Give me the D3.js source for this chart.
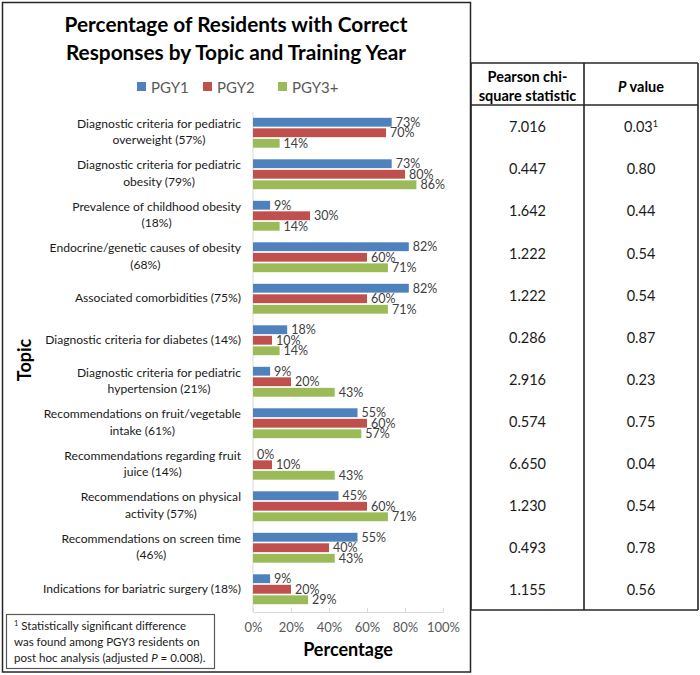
<!DOCTYPE html>
<html><head><meta charset="utf-8">
<script src="https://cdn.jsdelivr.net/npm/d3@7"></script>
<style>
body{margin:0;background:#fff;}
svg{display:block;font-family:Lato,"Open Sans",sans-serif;}
</style>
</head><body>
<svg id="chart" width="700" height="675"></svg>
<script>
// ---------- data ----------
const topics = [
  "Diagnostic criteria for pediatric|overweight (57%)",
  "Diagnostic criteria for pediatric|obesity (79%)",
  "Prevalence of childhood obesity|(18%)",
  "Endocrine/genetic causes of obesity|(68%)",
  "Associated comorbidities (75%)",
  "Diagnostic criteria for diabetes (14%)",
  "Diagnostic criteria for pediatric|hypertension (21%)",
  "Recommendations on fruit/vegetable|intake (61%)",
  "Recommendations regarding fruit|juice (14%)",
  "Recommendations on physical|activity (57%)",
  "Recommendations on screen time|(46%)",
  "Indications for bariatric surgery (18%)"
];
const seriesNames = ["PGY1", "PGY2", "PGY3+"];
const pgy1  = [73, 73,  9, 82, 82, 18,  9, 55,  0, 45, 55,  9];
const pgy2  = [70, 80, 30, 60, 60, 10, 20, 60, 10, 60, 40, 20];
const pgy3  = [14, 86, 14, 71, 71, 14, 43, 57, 43, 71, 43, 29];
const chiSquare = ["7.016","0.447","1.642","1.222","1.222","0.286","2.916","0.574","6.650","1.230","0.493","1.155"];
const pValues   = ["0.03","0.80","0.44","0.54","0.54","0.87","0.23","0.75","0.04","0.54","0.78","0.56"];
const pNotes    = ["1","","","","","","","","","","",""];
const xTicks = [0, 20, 40, 60, 80, 100];
const seriesColors = ["#4F81BD", "#C0504D", "#9BBB59"];

const seriesValues = [pgy1, pgy2, pgy3];

// ---------- layout ----------
const svg = d3.select("#chart");
const ink = "#262626";

// outer chart box
svg.append("rect").attr("x", 2.5).attr("y", 2.5).attr("width", 468).attr("height", 669.5)
  .attr("fill", "none").attr("stroke", ink).attr("stroke-width", 1.5);

// title
const title = svg.append("text").attr("text-anchor", "middle").attr("font-weight", "bold")
  .attr("font-size", 20.8).attr("fill", "#000");
title.append("tspan").attr("x", 236).attr("y", 32).text("Percentage of Residents with Correct");
title.append("tspan").attr("x", 236).attr("y", 60).text("Responses by Topic and Training Year");

// legend
const legendX = [137, 203, 278];
const legend = svg.append("g");
seriesNames.forEach((s, i) => {
  legend.append("rect").attr("x", legendX[i]).attr("y", 82).attr("width", 9).attr("height", 9)
    .attr("fill", seriesColors[i]);
  legend.append("text").attr("x", legendX[i] + 14).attr("y", 92.5).attr("font-size", 15)
    .attr("fill", "#595959").text(s);
});

// scales
const x = d3.scaleLinear().domain([0, 100]).range([253, 443]);
const y = d3.scaleBand().domain(topics).range([112, 610]).paddingInner(0.28).paddingOuter(0.14);
const ySub = d3.scaleBand().domain(seriesNames).range([0, y.bandwidth()]).paddingInner(0.16);

// x axis
const xAxis = d3.axisBottom(x).tickValues(xTicks).tickFormat(d => d + "%")
  .tickSizeInner(-4).tickSizeOuter(0).tickPadding(11);
const gx = svg.append("g").attr("transform", "translate(0,612)").call(xAxis);
gx.select(".domain").attr("stroke", "#d9d9d9");
gx.selectAll(".tick line").attr("stroke", "#d9d9d9");
gx.selectAll(".tick text").attr("font-family", "Lato").attr("font-size", 13).attr("fill", "#595959");

// y axis line
svg.append("line").attr("x1", x(0)).attr("x2", x(0)).attr("y1", 112).attr("y2", 612)
  .attr("stroke", "#d9d9d9");

// bars
seriesNames.forEach((s, si) => {
  const g = svg.append("g");
  g.selectAll("rect").data(topics).join("rect")
    .attr("x", x(0))
    .attr("y", (t) => y(t) + ySub(s))
    .attr("width", (t, i) => x(seriesValues[si][i]) - x(0))
    .attr("height", ySub.bandwidth())
    .attr("fill", seriesColors[si]);
  g.selectAll("text").data(topics).join("text")
    .attr("x", (t, i) => x(seriesValues[si][i]) + 4)
    .attr("y", (t) => y(t) + ySub(s) + ySub.bandwidth() / 2)
    .attr("dy", "0.36em")
    .attr("font-size", 12.5).attr("fill", "#404040")
    .text((t, i) => seriesValues[si][i] + "%");
});

// category labels (block right aligned, lines centred)
const labelRight = 241;
topics.forEach(t => {
  const lines = t.split("|");
  const g = svg.append("g");
  const texts = lines.map(l => g.append("text").attr("font-size", 12.1).attr("fill", "#1a1a1a")
    .attr("text-anchor", "middle").text(l));
  const w = d3.max(texts, tx => tx.node().getComputedTextLength());
  const cy = y(t) + y.bandwidth() / 2 - 1;
  const lh = 16.5;
  texts.forEach((tx, i) => {
    tx.attr("x", labelRight - w / 2)
      .attr("y", cy + (i - (lines.length - 1) / 2) * lh)
      .attr("dy", "0.36em");
  });
});

// axis titles
svg.append("text").attr("x", 348).attr("y", 656).attr("text-anchor", "middle")
  .attr("font-weight", "bold").attr("font-size", 18).attr("fill", "#000").text("Percentage");
svg.append("text").attr("transform", "translate(31,360) rotate(-90)").attr("text-anchor", "middle")
  .attr("font-weight", "bold").attr("font-size", 18).attr("fill", "#000").text("Topic");

// footnote box
svg.append("rect").attr("x", 6.5).attr("y", 614.5).attr("width", 208).attr("height", 54)
  .attr("fill", "#fff").attr("stroke", "#595959").attr("stroke-width", 1.2);
const foot = svg.append("text").attr("font-size", 11.5).attr("fill", "#1a1a1a");
const f1 = foot.append("tspan").attr("x", 14).attr("y", 630);
f1.append("tspan").attr("font-size", 7.5).attr("dy", -4).text("1");
f1.append("tspan").attr("dy", 4).text(" Statistically significant difference");
foot.append("tspan").attr("x", 14).attr("y", 646).text("was found among PGY3 residents on");
const f3 = foot.append("tspan").attr("x", 14).attr("y", 662);
f3.append("tspan").text("post hoc analysis (adjusted ");
f3.append("tspan").attr("font-style", "italic").text("P");
f3.append("tspan").text(" = 0.008).");

// ---------- table ----------
const tLeft = 471, tMid = 584, tRight = 698, tTop = 63, tHead = 105, tBottom = 610;
const tbl = svg.append("g").attr("stroke", ink).attr("stroke-width", 1.6);
[[tLeft, tTop, tLeft, tBottom], [tMid, tTop, tMid, tBottom], [tRight, tTop, tRight, tBottom],
 [tLeft, tTop, tRight, tTop], [tLeft, tHead, tRight, tHead], [tLeft, tBottom, tRight, tBottom]]
  .forEach(([a, b, c, d]) => tbl.append("line").attr("x1", a).attr("y1", b).attr("x2", c).attr("y2", d));

const c1 = (tLeft + tMid) / 2, c2 = (tMid + tRight) / 2;
const h1 = svg.append("text").attr("text-anchor", "middle").attr("font-weight", "bold")
  .attr("font-size", 14.5).attr("fill", "#000");
h1.append("tspan").attr("x", c1).attr("y", 82).text("Pearson chi-");
h1.append("tspan").attr("x", c1).attr("y", 101).text("square statistic");
const h2 = svg.append("text").attr("text-anchor", "middle").attr("font-weight", "bold")
  .attr("font-size", 14.5).attr("fill", "#000").attr("x", c2).attr("y", 92);
h2.append("tspan").attr("font-style", "italic").text("P");
h2.append("tspan").text(" value");

const rows = d3.scaleBand().domain(topics).range([tHead, tBottom]);
svg.append("g").selectAll("text").data(topics).join("text")
  .attr("x", c1).attr("y", t => rows(t) + rows.bandwidth() / 2 + 1).attr("dy", "0.36em")
  .attr("text-anchor", "middle").attr("font-size", 14.5).attr("fill", "#1a1a1a")
  .text((t, i) => chiSquare[i]);
const pv = svg.append("g").selectAll("text").data(topics).join("text")
  .attr("x", c2).attr("y", t => rows(t) + rows.bandwidth() / 2 + 1).attr("dy", "0.36em")
  .attr("text-anchor", "middle").attr("font-size", 14.5).attr("fill", "#1a1a1a");
pv.each(function(t, i) {
  const el = d3.select(this);
  el.append("tspan").text(pValues[i]);
  if (pNotes[i]) {
    el.append("tspan").attr("font-size", 9).attr("dy", -5).text(pNotes[i]);
  }
});
</script>
</body></html>
